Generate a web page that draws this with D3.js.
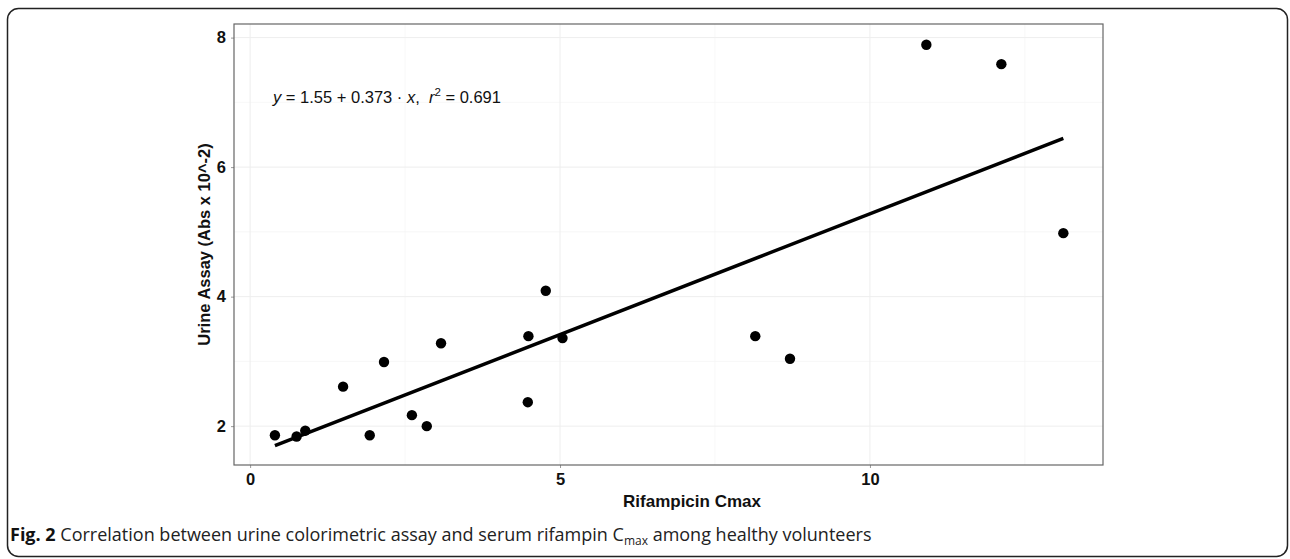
<!DOCTYPE html>
<html>
<head>
<meta charset="utf-8">
<script src="https://cdn.jsdelivr.net/npm/d3@7"></script>
<style>
  body { margin: 0; background: #fff; }
  svg text { font-family: "Liberation Sans", Arial, sans-serif; }
</style>
</head>
<body>
<svg id="chart" width="1290" height="559"></svg>
<script>
// serum rifampicin Cmax vs urine assay, one entry per volunteer
var cmax  = [0.40, 0.75, 0.89, 1.50, 1.93, 2.16, 2.61, 2.85, 3.08, 4.48, 4.49, 4.77, 5.04, 8.15, 8.71, 10.91, 12.12, 13.12];
var urine = [1.86, 1.84, 1.93, 2.61, 1.86, 2.99, 2.17, 2.00, 3.28, 2.37, 3.39, 4.09, 3.36, 3.39, 3.04, 7.89, 7.59, 4.98];

// fitted line as printed on the chart
var intercept = 1.55, slope = 0.373, r2 = 0.691;

var xTicks = [0, 5, 10];
var xMinor = [2.5, 7.5, 12.5];
var yTicks = [2, 4, 6, 8];
var yMinor = [3, 5, 7];

var svg = d3.select("#chart");

// outer figure frame
svg.append("rect")
  .attr("x", 7.5).attr("y", 8.5)
  .attr("width", 1280).attr("height", 548)
  .attr("rx", 11)
  .attr("fill", "none")
  .attr("stroke", "#222")
  .attr("stroke-width", 1.5);

// panel box
var panel = {left: 234, right: 1103, top: 24, bottom: 465};

var x = d3.scaleLinear()
  .domain([-0.26, 13.76])
  .range([panel.left, panel.right]);

var y = d3.scaleLinear()
  .domain([1.40, 8.21])
  .range([panel.bottom, panel.top]);

var g = svg.append("g");

// grid lines (minor then major)
g.selectAll("line.xminor").data(xMinor).enter().append("line")
  .attr("x1", d => x(d)).attr("x2", d => x(d))
  .attr("y1", panel.top).attr("y2", panel.bottom)
  .attr("stroke", "#f3f3f3").attr("stroke-width", 0.7);
g.selectAll("line.yminor").data(yMinor).enter().append("line")
  .attr("y1", d => y(d)).attr("y2", d => y(d))
  .attr("x1", panel.left).attr("x2", panel.right)
  .attr("stroke", "#f3f3f3").attr("stroke-width", 0.7);
g.selectAll("line.xmajor").data(xTicks).enter().append("line")
  .attr("x1", d => x(d)).attr("x2", d => x(d))
  .attr("y1", panel.top).attr("y2", panel.bottom)
  .attr("stroke", "#eeeeee").attr("stroke-width", 1);
g.selectAll("line.ymajor").data(yTicks).enter().append("line")
  .attr("y1", d => y(d)).attr("y2", d => y(d))
  .attr("x1", panel.left).attr("x2", panel.right)
  .attr("stroke", "#eeeeee").attr("stroke-width", 1);

// axes
var xAxis = svg.append("g")
  .attr("transform", "translate(0," + panel.bottom + ")")
  .call(d3.axisBottom(x).tickValues(xTicks).tickSize(3).tickPadding(5).tickFormat(d3.format("d")));
var yAxis = svg.append("g")
  .attr("transform", "translate(" + panel.left + ",0)")
  .call(d3.axisLeft(y).tickValues(yTicks).tickSize(3).tickPadding(5).tickFormat(d3.format("d")));

[xAxis, yAxis].forEach(function(a) {
  a.select(".domain").remove();
  a.selectAll(".tick line").attr("stroke", "#999");
  a.selectAll(".tick text")
    .attr("fill", "#111")
    .attr("font-size", 16.5)
    .attr("font-weight", "bold")
    .attr("font-family", "Liberation Sans, Arial, sans-serif");
});

// panel border
svg.append("rect")
  .attr("x", panel.left).attr("y", panel.top)
  .attr("width", panel.right - panel.left)
  .attr("height", panel.bottom - panel.top)
  .attr("fill", "none")
  .attr("stroke", "#666")
  .attr("stroke-width", 1.2);

// regression line from the printed coefficients
var xExt = d3.extent(cmax);
var fit = xExt.map(function(v) { return {X: v, Y: intercept + slope * v}; });
var line = d3.line()
  .x(function(d) { return x(d.X); })
  .y(function(d) { return y(d.Y); });

svg.append("path")
  .datum(fit)
  .attr("fill", "none")
  .attr("stroke", "black")
  .attr("stroke-width", 3.5)
  .attr("stroke-linecap", "butt")
  .attr("d", line);

// points
svg.selectAll("circle.pt")
  .data(d3.zip(cmax, urine))
  .enter().append("circle")
  .attr("cx", d => x(d[0]))
  .attr("cy", d => y(d[1]))
  .attr("r", 5.2)
  .attr("fill", "black");

// equation label
var eq = svg.append("text")
  .attr("x", 273).attr("y", 103)
  .attr("font-size", 16.5)
  .attr("fill", "#111");
eq.append("tspan").attr("font-style", "italic").text("y");
eq.append("tspan").text(" = 1.55 + 0.373 \u00b7 ");
eq.append("tspan").attr("font-style", "italic").text("x");
eq.append("tspan").text(",\u00a0\u00a0");
eq.append("tspan").attr("font-style", "italic").text("r");
eq.append("tspan").attr("font-size", 11.5).attr("dy", -7).text("2");
eq.append("tspan").attr("dy", 7).text(" = " + r2.toFixed(3));

// axis titles
svg.append("text")
  .attr("x", 692)
  .attr("y", 507)
  .attr("text-anchor", "middle")
  .attr("font-size", 17)
  .attr("font-weight", "bold")
  .attr("fill", "#111")
  .text("Rifampicin Cmax");

svg.append("text")
  .attr("transform", "translate(210," + ((panel.top + panel.bottom) / 2) + ") rotate(-90)")
  .attr("text-anchor", "middle")
  .attr("font-size", 16.5)
  .attr("font-weight", "bold")
  .attr("fill", "#111")
  .text("Urine Assay (Abs x 10^-2)");

// figure caption
var cap = svg.append("text")
  .attr("x", 10).attr("y", 541)
  .attr("font-size", 18)
  .attr("fill", "#222")
  .style("font-family", "'Open Sans', sans-serif");
cap.append("tspan").attr("font-weight", "bold").attr("fill", "#111").text("Fig. 2");
cap.append("tspan").text(" Correlation between urine colorimetric assay and serum rifampin C");
cap.append("tspan").attr("font-size", 12).attr("dy", 4).text("max");
cap.append("tspan").attr("dy", -4).text(" among healthy volunteers");
</script>
</body>
</html>
